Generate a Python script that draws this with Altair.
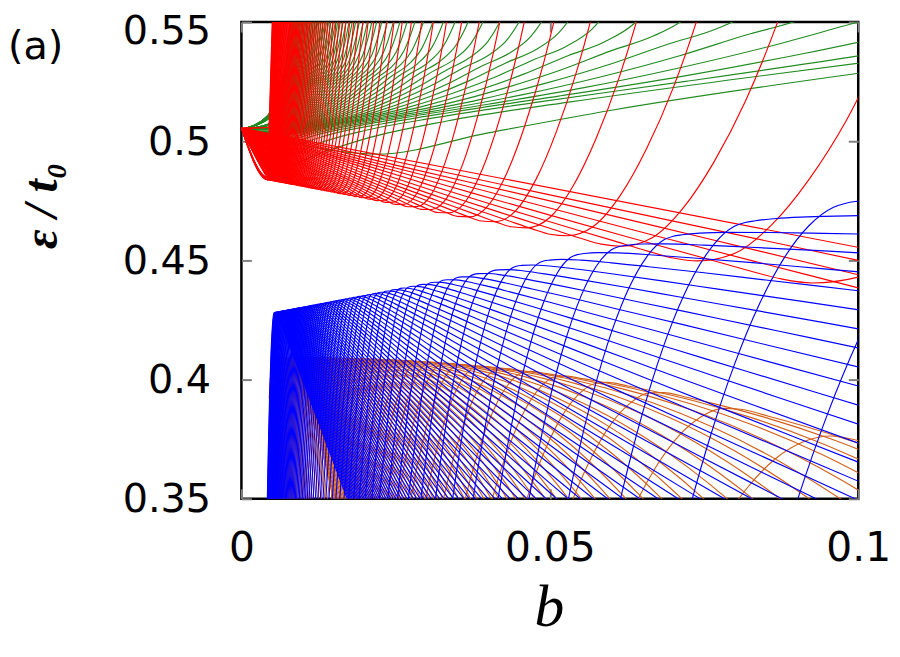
import pandas as pd
import altair as alt

# ---------------- axis ticks ----------------
X_TICKS = [0, 0.05, 0.1]
Y_TICKS = [0.35, 0.4, 0.45, 0.5, 0.55]

# ---------------- level families ----------------
# Each family: level indices, a tabulated level shape (versus nu*b) and a
# smooth background e0 + s1*b + s2*b^2.

# blue (upper edge of the lower band)
blue_levels = list(range(4, 93))
blue_shape_x = [0.28, 0.31, 0.34, 0.36, 0.38, 0.40, 0.42, 0.44, 0.46, 0.48, 0.49,
                0.50, 0.52, 0.55, 0.60, 0.66, 0.75, 0.85, 1.0, 1.2, 1.5, 1.9, 2.5]
blue_shape_e = [0.108, 0.1922, 0.2635, 0.3038, 0.3384, 0.3672, 0.3902, 0.4075, 0.4190, 0.4248, 0.4255,
                0.4254, 0.4247, 0.4229, 0.4193, 0.4147, 0.4077, 0.3997, 0.3878, 0.3718, 0.3478, 0.3159, 0.2679]
blue_bg = (0.0, 0.495, 0.0)

# orange (second lower band)
orange_levels = [n + 0.5 for n in range(3, 88)]
orange_shape_x = [0.20, 0.25, 0.29, 0.32, 0.35, 0.37, 0.39, 0.41, 0.43, 0.445, 0.47,
                  0.50, 0.55, 0.62, 0.70, 0.80, 0.92, 1.05, 1.2, 1.4, 1.65, 2.0]
orange_shape_e = [-0.336, -0.213, -0.1345, -0.0875, -0.0505, -0.0315, -0.0169, -0.0069, -0.0013, 0.0, -0.00005,
                  -0.00024, -0.00088, -0.00245, -0.0052, -0.0101, -0.0181, -0.0293, -0.0456, -0.073, -0.1162, -0.1934]
orange_bg = (0.4085, 0.0987, -4.414)

# red (lower edge of the upper band)
red_levels = list(range(0, 98))
red_shape_x = [0.0, 0.05, 0.10, 0.15, 0.20, 0.25, 0.30, 0.33, 0.35, 0.37, 0.40,
               0.43, 0.46, 0.49, 0.52, 0.55, 0.60, 0.70]
red_shape_e = [0.020, 0.017, 0.0145, 0.0115, 0.0085, 0.0057, 0.003, 0.0013, 0.0005, 0.0013, 0.0075,
               0.0225, 0.0444, 0.0719, 0.106, 0.147, 0.229, 0.45]
red_bg = (0.4855, -0.5, 0.0)

# green (second upper band)
green_levels = [n + 0.5 for n in range(0, 76)]
green_shape_x = [0.0, 0.004, 0.011, 0.02, 0.03, 0.05, 0.08, 0.12, 0.18, 0.25, 0.32,
                 0.39, 0.45, 0.50, 0.54, 0.58, 0.62, 0.67, 0.75, 0.9]
green_shape_e = [0.0, -0.008, -0.017, -0.0135, -0.010, -0.0065, -0.0045, -0.003, -0.0015, 0.0008, 0.0045,
                 0.0095, 0.015, 0.019, 0.025, 0.038, 0.058, 0.092, 0.16, 0.30]
green_bg = (0.505, 0.3, 0.0)

B_FIRST = 0.0042    # first field value of the red / green sweeps
B_FIRST_LOW = 0.0045  # first field value of the orange sweep


def build(name, levels, sx, se, bg, from_zero=False, bmin=0.0):
    e0, s1, s2 = bg
    rows = []
    for k, nu in enumerate(levels):
        cid = f"{name}{k}"
        if nu == 0:
            for b in (0.0, 0.12):
                rows.append((cid, b, e0 + se[0] + s1 * b + s2 * b * b))
            continue
        pts = []
        if from_zero:
            pts.append((0.0, e0 + se[0]))
        for x, f in zip(sx, se):
            b = x / nu
            if b < bmin:
                continue
            pts.append((b, e0 + f + s1 * b + s2 * b * b))
            if b > 0.1:
                break
        for b, e in pts:
            rows.append((cid, b, e))
    return pd.DataFrame(rows, columns=["cid", "b", "e"])


df_green = build("g", green_levels, green_shape_x, green_shape_e, green_bg, True, B_FIRST)
df_red = build("r", red_levels, red_shape_x, red_shape_e, red_bg, True, B_FIRST)
df_orange = build("o", orange_levels, orange_shape_x, orange_shape_e, orange_bg, False, B_FIRST_LOW)
df_blue = build("b", blue_levels, blue_shape_x, blue_shape_e, blue_bg)

xs = alt.Scale(domain=[0, 0.1], nice=False, zero=False)
ys = alt.Scale(domain=[0.35, 0.55], nice=False, zero=False)

TICK = dict(offset=-10, domain=False, grid=False, ticks=True, tickSize=10,
            tickColor="#808080", tickWidth=2, title=None)
LAB = dict(labelFont="DejaVu Sans", labelColor="black",
           labelFlush=False, labelOverlap=False, format="~g")

ax_bottom = alt.Axis(orient="bottom", values=X_TICKS, labelPadding=30, labelFontSize=41, **TICK, **LAB)
ax_left = alt.Axis(
    orient="left", values=Y_TICKS, labelPadding=31, labelFontSize=40,
    labelOffset={"condition": {"test": "datum.value > 0.54", "value": 10}, "value": 1},
    **TICK, **LAB)
ax_top = alt.Axis(orient="top", values=X_TICKS, labels=False, **TICK)
ax_right = alt.Axis(orient="right", values=Y_TICKS, labels=False, **TICK)


def family_layer(df, color, xaxis, yaxis):
    return alt.Chart(df).mark_line(
        color=color, strokeWidth=1.15, clip=True, interpolate="monotone"
    ).encode(
        x=alt.X("b:Q", scale=xs, axis=xaxis),
        y=alt.Y("e:Q", scale=ys, axis=yaxis),
        detail="cid:N",
    )


l_green = family_layer(df_green, "#228b22", ax_bottom, ax_left)
l_red = family_layer(df_red, "#ff0000", ax_top, ax_right)
l_orange = family_layer(df_orange, "#d2601a", None, None)
l_blue = family_layer(df_blue, "#0000ff", None, None)

panel = pd.DataFrame({"t": ["(a)"]})
ylab = pd.DataFrame({"t": ["ε / t₀"]})
xlab = pd.DataFrame({"t": ["b"]})

t_panel = alt.Chart(panel).mark_text(
    font="DejaVu Sans", fontSize=40, align="left", baseline="middle", color="black"
).encode(x=alt.value(-235), y=alt.value(25), text="t:N")
t_y = alt.Chart(ylab).mark_text(
    font="Liberation Serif", fontStyle="italic", fontWeight="bold", fontSize=48, angle=270,
    align="center", baseline="middle", color="black"
).encode(x=alt.value(-200), y=alt.value(185), text="t:N")
t_x = alt.Chart(xlab).mark_text(
    font="Liberation Serif", fontStyle="italic", fontSize=60,
    align="center", baseline="middle", color="black"
).encode(x=alt.value(310), y=alt.value(590), text="t:N")

chart = alt.layer(
    l_green, l_red, l_orange, l_blue, t_panel, t_y, t_x
).resolve_axis(
    x="independent", y="independent"
).properties(
    width=621, height=480,
    padding={"left": 235, "top": 12, "right": 34, "bottom": 140},
    autosize=alt.AutoSizeParams(type="none"),
).configure_view(
    stroke="black", strokeWidth=2.5
)

chart.save("out.html", embed_options={"renderer": "svg", "actions": False})
